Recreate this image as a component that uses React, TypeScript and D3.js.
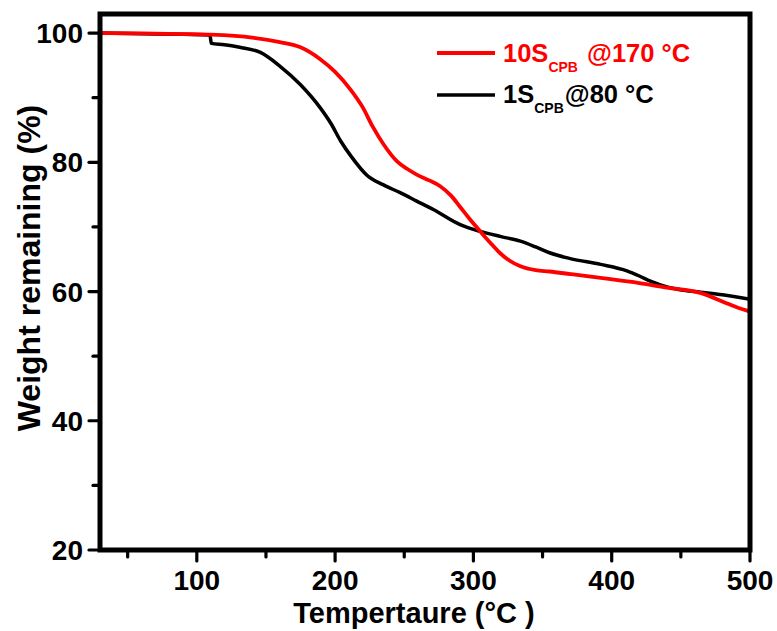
import React from "react";
import * as d3 from "d3";

const redT = [30, 60, 90, 110, 140, 160, 175, 189, 200, 211, 220, 227, 235, 245, 252, 259, 268, 276, 284, 290, 297, 305, 312, 319, 326, 334, 345, 355, 370, 392, 420, 440, 464, 483, 490, 500];
const redW = [100, 99.95, 99.85, 99.75, 99.3, 98.6, 97.8, 96, 94, 91.3, 88.5, 85.6, 82.8, 80.1, 79, 78.1, 77.2, 76.3, 74.8, 73.2, 71.3, 69.3, 67.6, 66, 64.8, 63.9, 63.3, 63.1, 62.7, 62.1, 61.3, 60.6, 59.8, 58.2, 57.6, 56.9];

const blackT = [30, 60, 90, 109.5, 110.5, 120, 131, 146, 160, 175, 189, 197, 204, 212, 223, 235, 247, 259, 271, 290, 305, 320, 334, 345, 355, 370, 392, 411, 420, 428, 440, 452, 464, 480, 500];
const blackW = [100, 99.9, 99.8, 99.7, 98.4, 98.2, 97.8, 97, 94.9, 92, 88.5, 86, 83.3, 80.8, 78, 76.5, 75.3, 74, 72.7, 70.4, 69.3, 68.5, 67.8, 66.9, 66, 65.1, 64.2, 63.2, 62.4, 61.6, 60.7, 60.2, 59.9, 59.5, 58.8];

const xMajor = [100, 200, 300, 400, 500];
const xMinor = [50, 150, 250, 350, 450];
const yMajor = [20, 40, 60, 80, 100];
const yMinor = [30, 50, 70, 90];

const xTitle = "Tempertaure (°C )";
const yTitle = "Weight remaining (%)";

export default function App() {
  const W = 777, H = 631;
  const left = 100, right = 750, top = 14, bottom = 550;
  const x = d3.scaleLinear().domain([30, 500]).range([left, right]);
  const y = d3.scaleLinear().domain([20, 102.95]).range([bottom, top]);
  const line = d3.line<[number, number]>().x(d => x(d[0])).y(d => y(d[1])).curve(d3.curveMonotoneX);
  const red: [number, number][] = redT.map((t, i) => [t, redW[i]]);
  const black: [number, number][] = blackT.map((t, i) => [t, blackW[i]]);
  const font = "'Liberation Sans', Arial, sans-serif";

  return (
    <svg width={W} height={H} style={{ position: "fixed", left: 0, top: 0, background: "#fff" }} fontFamily={font}>
      <rect x={0} y={0} width={W} height={H} fill="#fff" />
      <defs>
        <clipPath id="plot">
          <rect x={left} y={top} width={right - left} height={bottom - top} />
        </clipPath>
      </defs>
      <g clipPath="url(#plot)">
        <path d={line(black) || ""} fill="none" stroke="#000" strokeWidth={3.5} strokeLinejoin="round" />
        <path d={line(red) || ""} fill="none" stroke="#ff0000" strokeWidth={3.8} strokeLinejoin="round" />
      </g>
      <rect x={left} y={top} width={right - left} height={bottom - top} fill="none" stroke="#000" strokeWidth={5} />
      {xMajor.map(v => (
        <line key={"xM" + v} x1={x(v)} x2={x(v)} y1={bottom} y2={bottom + 11} stroke="#000" strokeWidth={3.2} strokeLinecap="round" />
      ))}
      {xMinor.map(v => (
        <line key={"xm" + v} x1={x(v)} x2={x(v)} y1={bottom} y2={bottom + 7} stroke="#000" strokeWidth={3.2} strokeLinecap="round" />
      ))}
      {yMajor.map(v => (
        <line key={"yM" + v} x1={left} x2={left - 11} y1={y(v)} y2={y(v)} stroke="#000" strokeWidth={3.2} strokeLinecap="round" />
      ))}
      {yMinor.map(v => (
        <line key={"ym" + v} x1={left} x2={left - 7} y1={y(v)} y2={y(v)} stroke="#000" strokeWidth={3.2} strokeLinecap="round" />
      ))}
      {xMajor.map(v => (
        <text key={"xl" + v} x={x(v)} y={590} textAnchor="middle" fontSize={28} fontWeight="bold" fill="#000">{v}</text>
      ))}
      {yMajor.map(v => (
        <text key={"yl" + v} x={83} y={y(v) + 10} textAnchor="end" fontSize={28} fontWeight="bold" fill="#000">{v}</text>
      ))}
      <text x={414} y={623} textAnchor="middle" fontSize={29} fontWeight="bold" fill="#000">{xTitle}</text>
      <text transform="translate(40,268) rotate(-90)" textAnchor="middle" fontSize={32} fontWeight="bold" fill="#000">{yTitle}</text>
      <line x1={437} x2={495} y1={53} y2={53} stroke="#ff0000" strokeWidth={3.8} />
      <text x={503} y={62} fontSize={25.5} fontWeight="bold" fill="#ff0000">
        10S<tspan fontSize={14} dy={10}>CPB</tspan><tspan dy={-10} dx={2}> @170 °C</tspan>
      </text>
      <line x1={437} x2={495} y1={95} y2={95} stroke="#000" strokeWidth={3.5} />
      <text x={503} y={103} fontSize={25.5} fontWeight="bold" fill="#000">
        1S<tspan fontSize={14} dy={10}>CPB</tspan><tspan dy={-10} dx={1}>@80 °C</tspan>
      </text>
    </svg>
  );
}
